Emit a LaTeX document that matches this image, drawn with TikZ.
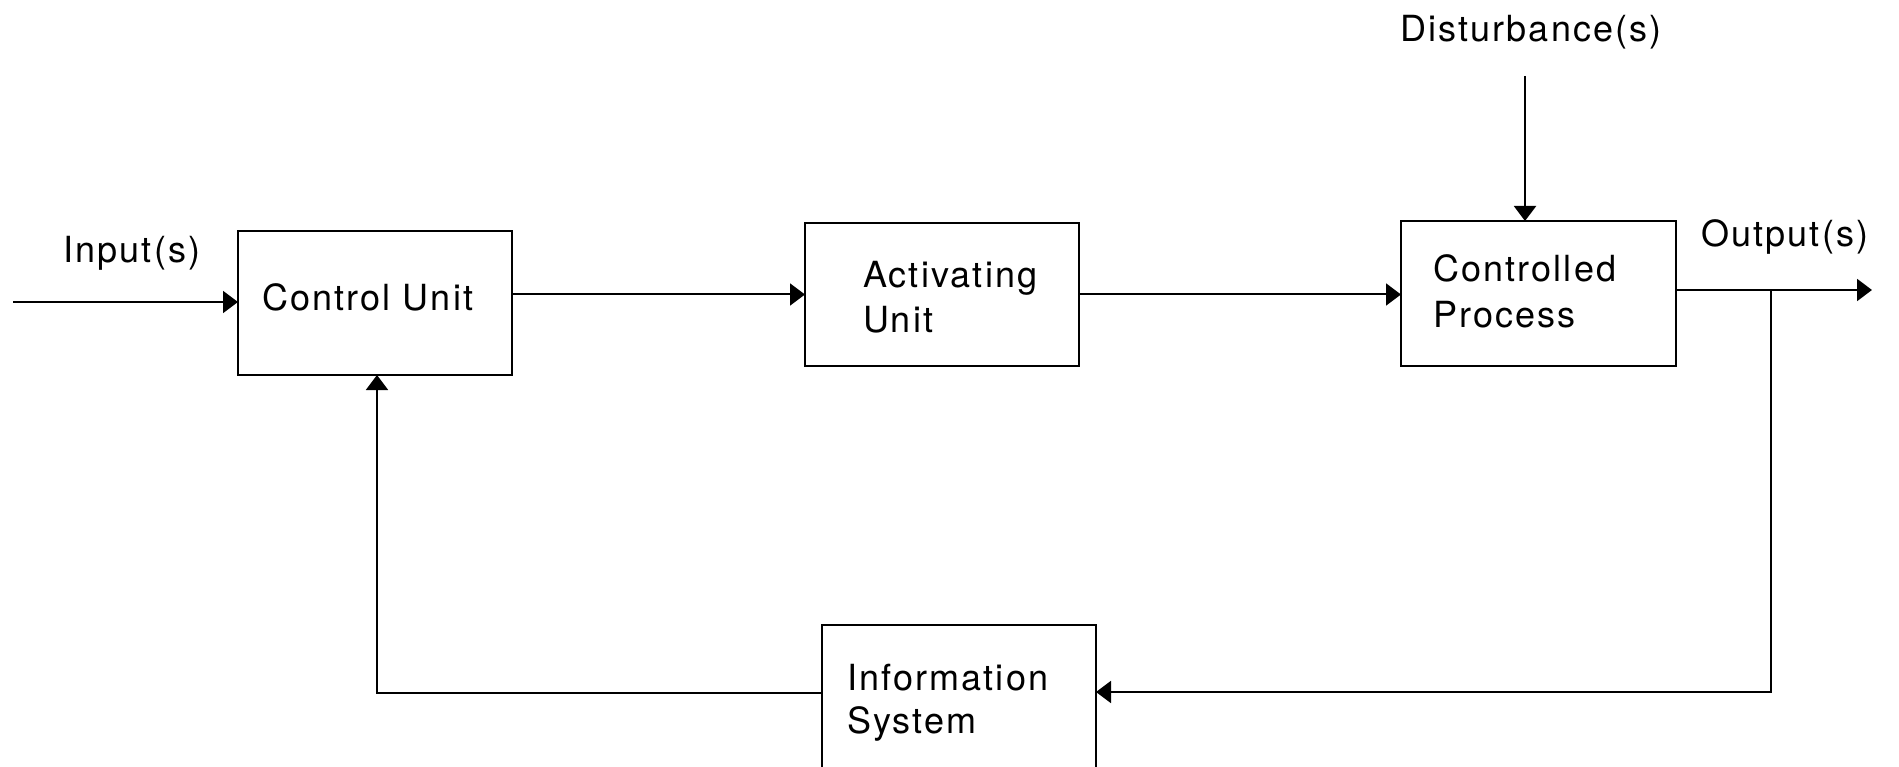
\documentclass[tikz,border=0pt]{standalone}
\usepackage{fontspec}
\setmainfont{TeX Gyre Heros}[LetterSpace=6]
\usetikzlibrary{arrows.meta}

\begin{document}
\begin{tikzpicture}[x=1pt, y=-1pt,
  every node/.style={inner sep=0pt, outer sep=0pt},
  blockbox/.style={draw, line width=2pt, rectangle, anchor=north west},
  lbl/.style={anchor=base west, font=\fontsize{36}{46}\selectfont},
  conn/.style={line width=2pt},
  arr/.style={conn, -{Triangle[length=15pt, width=22pt]}}]

  \useasboundingbox (0,0) rectangle (1899,767);
  \clip (0,0) rectangle (1899,767);
  \fill[white] (0,0) rectangle (1899,767);

  % blocks
  \node[blockbox, minimum width=274pt, minimum height=144pt] (cu) at (238,231) {};
  \node[blockbox, minimum width=274pt, minimum height=143pt] (au) at (805,223) {};
  \node[blockbox, minimum width=275pt, minimum height=145pt] (cp) at (1401,221) {};
  \node[blockbox, minimum width=274pt, minimum height=170pt] (is) at (822,625) {};

  % block texts
  \node[lbl] (cutxt) at (262,311) {Control Unit};
  \node[lbl] (autxt1) at (863,288) {Activating};
  \node[lbl] (autxt2) at (863,333) {Unit};
  \node[lbl] (cptxt1) at (1433,282) {Controlled};
  \node[lbl] (cptxt2) at (1433,328) {Process};
  \node[lbl] (istxt1) at (847,690) {Information};
  \node[lbl] (istxt2) at (847,733) {System};

  % signal labels
  \node[lbl] (inlbl) at (63,263) {Input(s)};
  \node[lbl] (dslbl) at (1400,42) {Disturbance(s)};
  \node[lbl] (outlbl) at (1701,247) {Output(s)};

  % free ends and bends
  \coordinate (inL) at (13,302);
  \coordinate (dtop) at (1525,76);
  \coordinate (outR) at (1872,290);
  \coordinate (br) at (1771,290);
  \coordinate (brd) at (1771,692);
  \coordinate (fb) at (377,693);

  % forward path
  \draw[arr] (inL) -- (inL -| cu.west);
  \draw[arr] (cu.east |- au.west) -- (au.west);
  \draw[arr] (au.east) -- (au.east -| cp.west);
  \draw[arr] (dtop) -- (dtop |- cp.north);
  \draw[arr] (outR -| cp.east) -- (outR);

  % feedback path
  \draw[arr] (br) -- (brd) -- (brd -| is.east);
  \draw[arr] (fb -| is.west) -- (fb) -- (fb |- cu.south);
\end{tikzpicture}
\end{document}
